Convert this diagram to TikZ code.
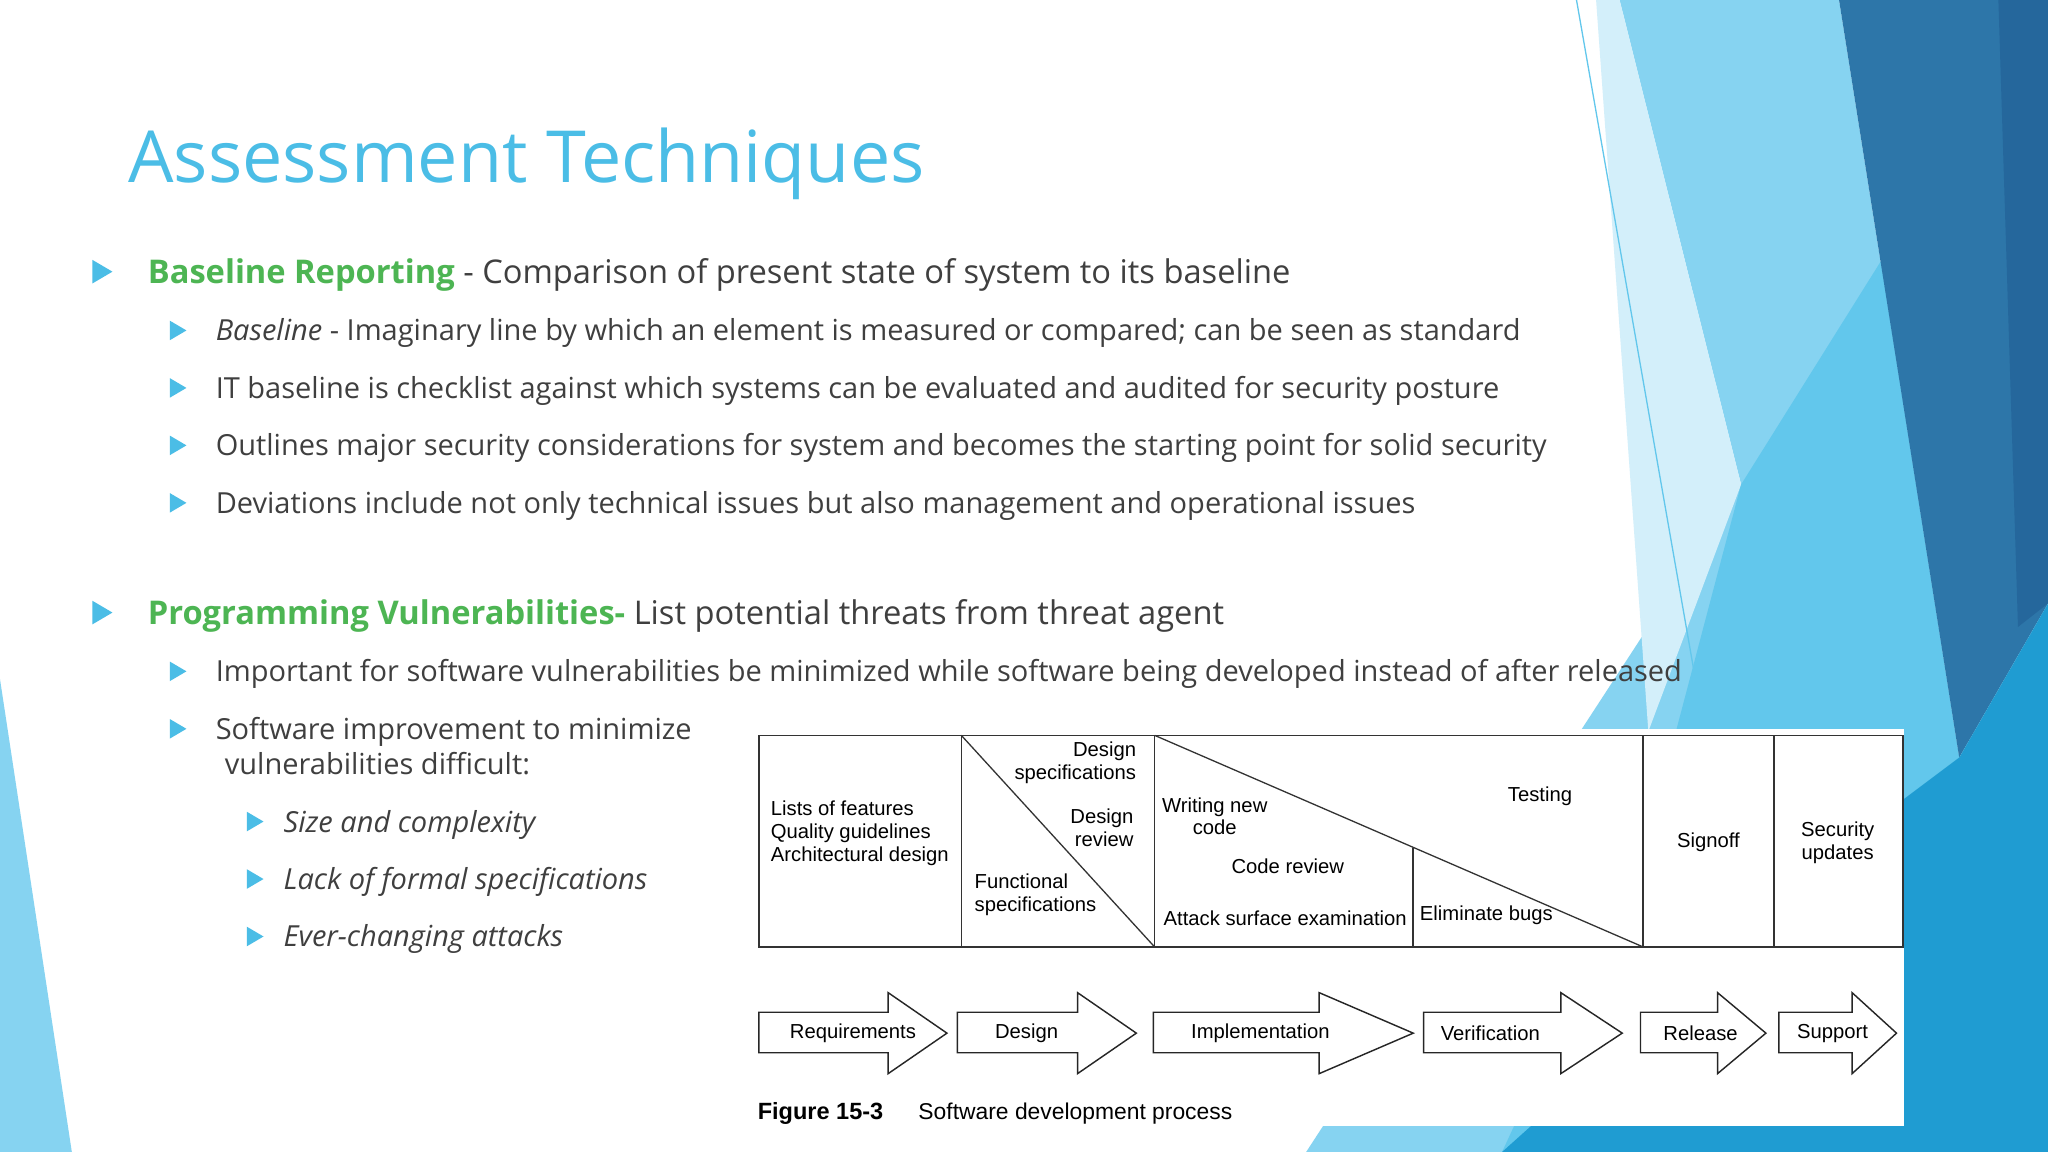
\documentclass[tikz,border=0pt]{standalone}
\usepackage{fontspec}
\setmainfont{Open Sans}
\newfontfamily\figfont{Liberation Sans}
\definecolor{ttl}{HTML}{4BBDE6}
\definecolor{grn}{HTML}{4DB553}
\definecolor{txt}{HTML}{3F3F3F}
\definecolor{bul}{HTML}{4BBDE6}
\definecolor{cLight}{HTML}{86D3F1}
\definecolor{cMid}{HTML}{62C7EC}
\definecolor{cPale}{HTML}{D3EFFA}
\definecolor{cDark}{HTML}{2D76A9}
\definecolor{cDarker}{HTML}{25679C}
\definecolor{cMed}{HTML}{1F9CD2}
\begin{document}
\begin{tikzpicture}[x=1pt,y=-1pt,
  t1/.style={anchor=base west,text=txt,font=\fontsize{25}{30}\selectfont,inner sep=0},
  t2/.style={anchor=base west,text=txt,font=\fontsize{22.2}{26}\selectfont,inner sep=0},
  fig/.style={font=\figfont\fontsize{15.5}{17.5}\selectfont,align=center,inner sep=0,text=black},
  box/.style={draw=black!80,line width=1.2pt},
  arr/.style={draw=black!85,line width=1.1pt,fill=white}]
\useasboundingbox (0,0) rectangle (1568,882);
\fill[white] (0,0) rectangle (1568,882);
% background decoration
\fill[cLight] (1240,0)--(1408,0)--(1500,580)--(1150,882)--(1000,882)--(1333,371)--cycle;
\fill[cPale] (1222,0)--(1240,0)--(1333,371)--(1262,560)--cycle;
\fill[cMid] (1333,371)--(1440,200)--(1500,580)--(1380,882)--(1150,882)--(1262,640)--cycle;
\fill[cDark] (1408,0)--(1568,0)--(1568,462)--(1500,580)--cycle;
\fill[cDarker] (1530,0)--(1568,0)--(1568,462)--(1545,480)--cycle;
\fill[cMed] (1500,580)--(1568,462)--(1568,882)--(1150,882)--(1420,640)--cycle;
\draw[cMid,line width=1pt] (1207,0)--(1305,560);
\fill[cLight] (0,520)--(55,882)--(0,882)--cycle;
% title
\node[anchor=base west,text=ttl,font=\fontsize{55}{65}\selectfont,inner sep=0] (title) at (98,140) {Assessment Techniques};
% bullets
\foreach \x/\y/\s in {78/208/9,136/253/7.5,136/297/7.5,136/341/7.5,136/385/7.5,78/469/9,136/514/7.5,136/558/7.5,195/629/7.5,195/673/7.5,195/717/7.5}
  \fill[bul] (\x-\s*0.8,\y-\s)--(\x+\s*0.9,\y)--(\x-\s*0.8,\y+\s)--cycle;
\node[t1] (b1) at (113,217) {\textcolor{grn}{\bfseries Baseline Reporting} - Comparison of present state of system to its baseline};
\node[t2] (s1) at (165,261) {\textit{Baseline} - Imaginary line by which an element is measured or compared; can be seen as standard};
\node[t2] (s2) at (165,305) {IT baseline is checklist against which systems can be evaluated and audited for security posture};
\node[t2] (s3) at (165,349) {Outlines major security considerations for system and becomes the starting point for solid security};
\node[t2] (s4) at (165,393) {Deviations include not only technical issues but also management and operational issues};
\node[t1] (b2) at (113,478) {\textcolor{grn}{\bfseries Programming Vulnerabilities-} List potential threats from threat agent};
\node[t2] (s5) at (165,522) {Important for software vulnerabilities be minimized while software being developed instead of after released};
\node[t2] (s6) at (165,566) {Software improvement to minimize};
\node[t2] (s6b) at (172,593) {vulnerabilities difficult:};
\node[t2] (u1) at (217,637) {\textit{Size and complexity}};
\node[t2] (u2) at (217,681) {\textit{Lack of formal specifications}};
\node[t2] (u3) at (217,725) {\textit{Ever-changing attacks}};
% figure
\fill[white] (572,558) rectangle (1458,862);
\draw[box] (581,563) rectangle (1457,725);
\draw[box] (736,563)--(736,725) (884,563)--(884,725) (1258,563)--(1258,725) (1358,563)--(1358,725);
\draw[box,line width=1pt] (736,563)--(884,725);
\draw[box,line width=1pt] (884,563)--(1258,725);
\draw[box] (1082,649)--(1082,725);
\node[fig,align=left,anchor=west] (f1) at (590,638) {Lists of features\\Quality guidelines\\Architectural design};
\node[fig,align=right,anchor=north east] (f2) at (870,568) {Design\\specifications};
\node[fig,align=right,anchor=north east] (f3) at (868,619) {Design\\review};
\node[fig,align=left,anchor=west] (f4) at (746,685) {Functional\\specifications};
\node[fig] (f5) at (930,625) {Writing new\\code};
\node[fig] (f6) at (986,663) {Code review};
\node[fig] (f7) at (984,703) {Attack surface examination};
\node[fig] (f8) at (1179,610) {Testing};
\node[fig] (f9) at (1138,701) {Eliminate bugs};
\node[fig] (f10) at (1308,645) {Signoff};
\node[fig] (f11) at (1407,645) {Security\\updates};
% process arrows
\foreach \a/\h/\b/\nm/\lab/\lx in {581/680/725/r/Requirements/653,733/825/870/d/Design/786,883/1010/1082/i/Implementation/965,1090/1195/1242/v/Verification/1141,1256/1315/1352/rl/Release/1302,1362/1418/1452/s/Support/1403}{
  \draw[arr] (\a,775)--(\h,775)--(\h,760)--(\b,791)--(\h,822)--(\h,806)--(\a,806)--cycle;
  \node[fig] (\nm) at (\lx,791) {\lab};
}
\node[anchor=base west,inner sep=0,font=\figfont\bfseries\fontsize{18}{20}\selectfont] (cap1) at (580,857) {Figure 15-3};
\node[anchor=base west,inner sep=0,font=\figfont\fontsize{17.5}{20}\selectfont] (cap2) at (703,857) {Software development process};
\end{tikzpicture}
\end{document}
